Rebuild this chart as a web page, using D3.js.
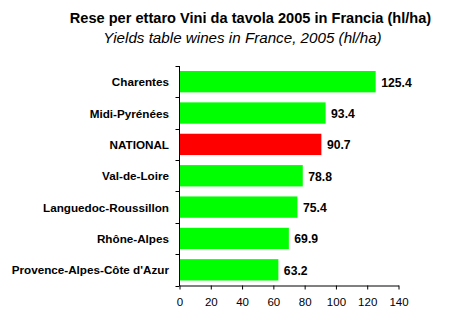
<!DOCTYPE html>
<html><head><meta charset="utf-8">
<script src="https://cdn.jsdelivr.net/npm/d3@7"></script>
<style>body{margin:0;background:#fff}svg{display:block}text{font-family:"Liberation Sans",Arial,sans-serif}</style>
</head><body><svg id="c" width="456" height="316"></svg>
<script>
const categories = ["Charentes","Midi-Pyrénées","NATIONAL","Val-de-Loire","Languedoc-Roussillon","Rhône-Alpes","Provence-Alpes-Côte d'Azur"];
const values = [125.4, 93.4, 90.7, 78.8, 75.4, 69.9, 63.2];
const highlight = ["NATIONAL"];
const xTicks = [0,20,40,60,80,100,120,140];
const title = "Rese per ettaro Vini da tavola 2005 in Francia (hl/ha)";
const subtitle = "Yields table wines in France, 2005 (hl/ha)";

const svg = d3.select("#c");
const x = d3.scaleLinear().domain([0,140]).range([179.5,398.5]);
const band = d3.scaleBand().domain(categories).range([66,285.5]);
const bar = d3.scaleBand().domain(categories).range([66,285.5]).paddingInner(0.32).paddingOuter(0.16);

svg.append("text").attr("x",250.5).attr("y",22.5).attr("text-anchor","middle")
  .attr("font-weight","bold").attr("font-size","14.6px").text(title);
svg.append("text").attr("x",242.5).attr("y",43).attr("text-anchor","middle")
  .attr("font-style","italic").attr("font-size","15.2px").text(subtitle);

svg.selectAll("rect.b").data(categories).enter().append("rect")
  .attr("x",x(0)).attr("y",d=>bar(d)).attr("height",bar.bandwidth())
  .attr("width",(d,i)=>x(values[i])-x(0))
  .attr("fill",d=>highlight.includes(d)?"#ff0000":"#00ff00");

svg.selectAll("text.v").data(categories).enter().append("text")
  .attr("x",(d,i)=>x(values[i])+5.5).attr("y",d=>bar(d)+bar.bandwidth()/2+5)
  .attr("font-weight","bold").attr("font-size","12.2px").text((d,i)=>values[i].toFixed(1));

// y axis
const ya = svg.append("g");
ya.append("line").attr("x1",x(0)).attr("x2",x(0)).attr("y1",66).attr("y2",286).attr("stroke","#000");
const bounds = categories.map(c=>band(c)).concat([band.range()[1]]);
ya.selectAll("line.t").data(bounds).enter().append("line")
  .attr("x1",x(0)-4).attr("x2",x(0)).attr("y1",d=>Math.round(d)+0.5).attr("y2",d=>Math.round(d)+0.5).attr("stroke","#000");
ya.selectAll("text").data(categories).enter().append("text")
  .attr("x",169).attr("y",d=>band(d)+band.bandwidth()/2+4.5).attr("text-anchor","end")
  .attr("font-weight","bold").attr("font-size","11.7px").text(d=>d);

// x axis
const xa = svg.append("g").attr("transform","translate(0,285.5)")
  .call(d3.axisBottom(x).tickValues(xTicks).tickSize(4).tickSizeOuter(0).tickPadding(8));
xa.select(".domain").attr("stroke","#000");
xa.selectAll("line").attr("stroke","#000");
xa.selectAll("text").attr("font-size","11.5px").attr("font-family","Liberation Sans, Arial, sans-serif").attr("fill","#000");
</script></body></html>
